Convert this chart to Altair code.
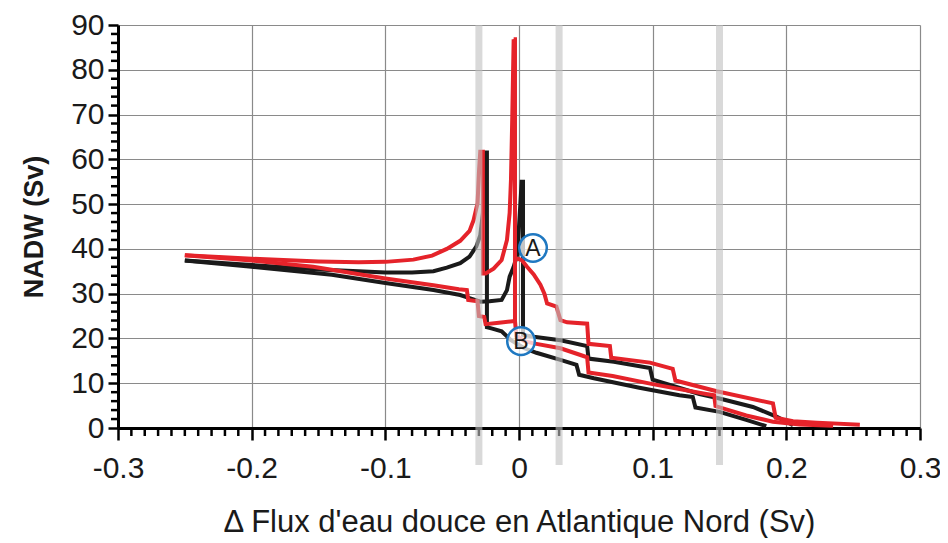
import altair as alt
import pandas as pd

# ---------------- data ----------------
# black, path through the first spike (-0.025)
k1_x = [-0.250, -0.200, -0.150, -0.120, -0.100, -0.080, -0.064, -0.054, -0.044, -0.037, -0.032, -0.029,
        -0.027, -0.026, -0.025, -0.024, -0.024, -0.020, -0.013, -0.006, 0.004, 0.013, 0.031, 0.043,
        0.045, 0.056, 0.090, 0.120, 0.130, 0.132, 0.150, 0.170, 0.185]
k1_y = [37.4, 36.4, 35.4, 35.0, 34.7, 34.7, 35.0, 35.8, 36.8, 38.3, 40.5, 43.0,
        48.0, 55.0, 61.5, 61.5, 22.5, 22.2, 21.6, 19.6, 17.8, 16.8, 15.2, 14.1,
        11.9, 11.1, 9.0, 7.3, 6.9, 4.6, 3.6, 1.8, 0.4]

# black, lower left branch, hook and second spike (0.003)
k2_x = [-0.250, -0.200, -0.140, -0.100, -0.064, -0.044, -0.037, -0.029, -0.022, -0.013, -0.009, -0.007,
        -0.004, -0.001, 0.000, 0.001, 0.002, 0.003, 0.003, 0.011, 0.031, 0.051, 0.052, 0.071,
        0.098, 0.100, 0.135, 0.150, 0.175, 0.193, 0.205]
k2_y = [37.4, 36.0, 34.2, 32.4, 30.8, 29.7, 29.0, 28.2, 28.3, 28.6, 30.8, 33.8,
        36.0, 39.0, 45.0, 50.0, 55.0, 55.0, 20.8, 20.4, 19.6, 18.3, 15.5, 14.8,
        13.4, 10.8, 7.6, 6.6, 4.7, 2.5, 0.6]

# red, upper left arc, first spike, hook, second spike
r1_x = [-0.250, -0.200, -0.150, -0.120, -0.100, -0.079, -0.065, -0.054, -0.044, -0.037, -0.034, -0.031,
        -0.030, -0.029, -0.027, -0.027, -0.025, -0.019, -0.013, -0.009, -0.007, -0.006, -0.005, -0.004]
r1_y = [38.6, 37.8, 37.2, 37.0, 37.1, 37.6, 38.5, 40.0, 41.8, 44.0, 46.4, 50.2,
        56.9, 61.7, 61.7, 34.5, 34.5, 35.6, 37.5, 42.0, 48.0, 55.5, 70.0, 86.8]

# red, drop from the second spike
r2_x = [-0.004, -0.003, -0.003]
r2_y = [86.8, 86.8, 23.9]

# red, branch from A down the staircase
r3_x = [-0.003, 0.002, 0.006, 0.011, 0.016, 0.019, 0.021, 0.028, 0.031, 0.036, 0.051, 0.052,
        0.068, 0.069, 0.098, 0.115, 0.117, 0.148, 0.190, 0.192, 0.205, 0.223, 0.255]
r3_y = [38.0, 37.5, 36.0, 34.3, 32.0, 30.0, 27.8, 27.1, 24.1, 23.6, 23.3, 18.8,
        18.3, 15.7, 14.6, 13.2, 10.6, 8.2, 5.5, 2.3, 1.5, 1.2, 0.7]

# red, lower left branch through B
r4_x = [-0.250, -0.200, -0.154, -0.100, -0.064, -0.045, -0.039, -0.038, -0.031, -0.030, -0.026, -0.025,
        -0.015, -0.003, -0.002, 0.004, 0.011, 0.031, 0.046, 0.051, 0.052, 0.070, 0.100, 0.140,
        0.146, 0.147, 0.170, 0.190, 0.210, 0.235]
r4_y = [38.6, 37.4, 36.0, 33.4, 31.9, 31.0, 30.8, 28.6, 28.3, 25.0, 24.8, 23.2,
        23.5, 23.9, 20.6, 19.4, 18.9, 17.8, 16.3, 15.8, 12.4, 11.6, 9.8, 7.6,
        7.3, 4.9, 2.8, 1.4, 0.8, 0.5]

band_x = [-0.03, 0.03, 0.15]

label_text = ["A", "B"]
label_x = [0.0105, 0.0015]
label_y = [40.2, 19.4]

x_major = [-0.3, -0.2, -0.1, 0.0, 0.1, 0.2, 0.3]
y_major = [0, 10, 20, 30, 40, 50, 60, 70, 80, 90]
x_minor = [round(i / 100, 2) for i in range(-30, 31) if i % 10 != 0]
y_minor = [v for v in range(0, 91, 2) if v % 10 != 0]

BLACK = "#1a1a1a"
RED = "#e5232a"

# ---------------- tables ----------------
rows = []
for name, xs, ys, col in [("k1", k1_x, k1_y, BLACK), ("k2", k2_x, k2_y, BLACK),
                          ("r1", r1_x, r1_y, RED), ("r2", r2_x, r2_y, RED),
                          ("r3", r3_x, r3_y, RED), ("r4", r4_x, r4_y, RED)]:
    for i, (a, b) in enumerate(zip(xs, ys)):
        rows.append({"x": a, "y": b, "s": name, "i": i, "c": col})
lines_df = pd.DataFrame(rows)

xscale = alt.Scale(domain=[-0.3, 0.3], nice=False, zero=False)
yscale = alt.Scale(domain=[0, 90], nice=False, zero=False)

FONT = "Liberation Sans"
xaxis = alt.Axis(values=x_major, labelExpr="toString(round(datum.value*10)/10)",
                 labelFont=FONT, labelFontSize=30, labelColor="#1a1a1a", labelPadding=13,
                 labelFlush=False, labelOverlap=False, tickSize=12, tickWidth=2.5, tickColor="black",
                 domainColor="black", domainWidth=3, grid=True, gridColor="#8a8a8a", gridWidth=1.2,
                 title="Δ Flux d'eau douce en Atlantique Nord (Sv)", titleFont=FONT, titleFontSize=31,
                 titleFontWeight="normal", titleColor="#1a1a1a", titlePadding=24)
yaxis = alt.Axis(values=y_major, labelFont=FONT, labelFontSize=30, labelColor="#1a1a1a", labelPadding=4,
                 labelFlush=False, labelOverlap=False, tickSize=10, tickWidth=2.5, tickColor="black",
                 domainColor="black", domainWidth=3, grid=True, gridColor="#8a8a8a", gridWidth=1.2,
                 title="NADW (Sv)", titleFont=FONT, titleFontSize=27, titleFontWeight="bold",
                 titleColor="#1a1a1a", titlePadding=22)

X = alt.X("x:Q", scale=xscale, axis=xaxis)
Y = alt.Y("y:Q", scale=yscale, axis=yaxis)

W, H = 802, 403

lines = alt.Chart(lines_df).mark_line(strokeWidth=4, strokeJoin="miter").encode(
    x=X, y=Y, detail="s:N", order="i:Q", color=alt.Color("c:N", scale=None)
)

xt = alt.Chart(pd.DataFrame({"x": x_minor})).mark_rule(color="black", strokeWidth=2.5).encode(
    x=X, y=alt.value(H), y2=alt.value(H + 8)
)
yt = alt.Chart(pd.DataFrame({"y": y_minor})).mark_rule(color="black", strokeWidth=2.5).encode(
    y=Y, x=alt.value(-7), x2=alt.value(0)
)

bands = alt.Chart(pd.DataFrame({"x": band_x})).mark_rule(color="#c0c0c0", strokeWidth=7, opacity=0.6).encode(
    x=X, y=alt.value(0), y2=alt.value(440)
)

lab_df = pd.DataFrame({"x": label_x, "y": label_y, "t": label_text})
circles = alt.Chart(lab_df).mark_point(shape="circle", size=760, filled=False, fill="white",
                                       fillOpacity=0.75, stroke="#1f78c1", strokeWidth=2.5,
                                       opacity=1).encode(x=X, y=Y)
texts = alt.Chart(lab_df).mark_text(font=FONT, fontSize=23, color="#1a1a1a", align="center",
                                    baseline="middle", dy=1).encode(x=X, y=Y, text="t:N")

chart = alt.layer(lines, xt, yt, bands, circles, texts).properties(
    width=W, height=H,
    autosize=alt.AutoSizeParams(type="none"),
    padding={"left": 110, "top": 17, "right": 20, "bottom": 110},
).configure_view(stroke=None)

chart.save("out.html", embed_options={"renderer": "svg", "actions": False})
